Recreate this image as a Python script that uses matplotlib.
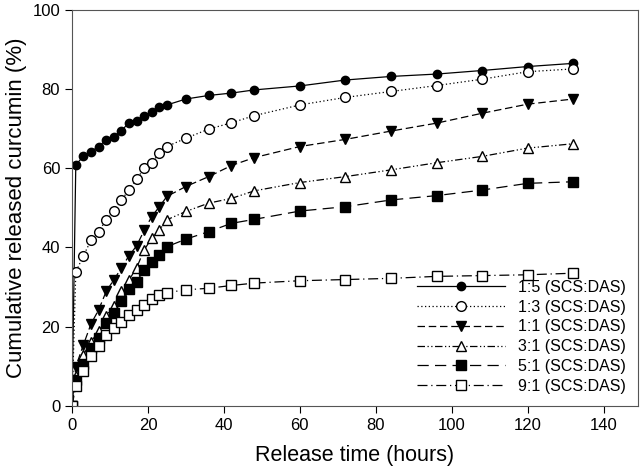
import numpy as np
import matplotlib.pyplot as plt

plt.rcParams['font.family'] = ['Liberation Sans', 'DejaVu Sans']

# Release times (hours)
t = [0, 1, 3, 5, 7, 9, 11, 13, 15, 17, 19, 21, 23, 25,
     30, 36, 42, 48, 60, 72, 84, 96, 108, 120, 132]

# Cumulative release (%) per SCS:DAS ratio
r15 = [0, 60.9, 63.0, 64.2, 65.5, 67.2, 68.0, 69.5, 71.5, 72.0, 73.1, 74.2, 75.4, 76.0,
       77.5, 78.4, 79.0, 79.8, 80.8, 82.3, 83.2, 83.8, 84.7, 85.7, 86.5]
r13 = [0, 33.8, 37.9, 41.8, 44.0, 47.0, 49.1, 52.0, 54.5, 57.2, 60.0, 61.4, 63.8, 65.5,
       67.6, 69.9, 71.5, 73.3, 76.0, 77.9, 79.4, 80.9, 82.5, 84.4, 85.1]
r11 = [0, 9.9, 15.4, 20.7, 24.2, 28.9, 31.8, 34.8, 37.9, 40.4, 44.3, 47.8, 50.3, 52.9,
       55.4, 57.9, 60.7, 62.7, 65.5, 67.3, 69.4, 71.4, 73.9, 76.2, 77.5]
r31 = [0, 7.6, 12.9, 16.2, 18.8, 22.7, 25.3, 28.9, 31.8, 34.8, 39.4, 42.3, 44.4, 47.0,
       49.1, 51.2, 52.4, 54.3, 56.4, 57.9, 59.6, 61.4, 63.0, 65.1, 66.2]
r51 = [0, 6.6, 10.6, 14.6, 17.1, 20.9, 23.4, 26.5, 29.5, 31.4, 34.3, 36.4, 38.1, 40.2,
       42.1, 44.0, 46.1, 47.1, 49.2, 50.3, 52.0, 53.1, 54.5, 56.2, 56.6]
r91 = [0, 4.9, 8.8, 12.5, 15.0, 17.9, 19.6, 21.3, 23.0, 24.2, 25.5, 26.9, 28.0, 28.6,
       29.3, 29.7, 30.4, 31.0, 31.6, 31.9, 32.2, 32.7, 32.9, 33.1, 33.5]

fig = plt.figure(figsize=(6.4, 4.73), dpi=100)
ax = fig.add_axes([0.1125, 0.142, 0.884, 0.837])

lw = 0.9
ax.plot(t, r15, color='black', lw=lw, ls='-', marker='o', ms=6,
        mfc='black', mec='black', label='1:5 (SCS:DAS)')
ax.plot(t, r13, color='black', lw=lw, ls=(0, (1, 2)), marker='o', ms=7,
        mfc='white', mec='black', label='1:3 (SCS:DAS)')
ax.plot(t, r11, color='black', lw=lw, ls=(0, (6, 3)), marker='v', ms=7,
        mfc='black', mec='black', label='1:1 (SCS:DAS)')
ax.plot(t, r31, color='black', lw=lw, ls=(0, (6, 2, 1, 2, 1, 2)), marker='^', ms=7,
        mfc='white', mec='black', label='3:1 (SCS:DAS)')
ax.plot(t, r51, color='black', lw=lw, ls=(0, (9, 5)), marker='s', ms=7,
        mfc='black', mec='black', label='5:1 (SCS:DAS)')
ax.plot(t, r91, color='black', lw=lw, ls=(0, (8, 3, 1, 3)), marker='s', ms=7,
        mfc='white', mec='black', label='9:1 (SCS:DAS)')

ax.set_xlim(0, 149)
ax.set_ylim(0, 100)
ax.set_xticks(np.arange(0, 141, 20))
ax.set_yticks(np.arange(0, 101, 20))
ax.tick_params(direction='out', length=5, labelsize=12, top=False, right=False)
for s in ax.spines.values():
    s.set_color('#555555')

ax.set_xlabel('Release time (hours)', fontsize=15.5, labelpad=9)
ax.set_ylabel('Cumulative released curcumin (%)', fontsize=16, labelpad=4)

ax.legend(loc='lower right', bbox_to_anchor=(1.0, 0.0), frameon=False,
          fontsize=11.5, handlelength=5.5, labelspacing=0.3, borderaxespad=0.35)

fig.savefig('out.png', dpi=100)
